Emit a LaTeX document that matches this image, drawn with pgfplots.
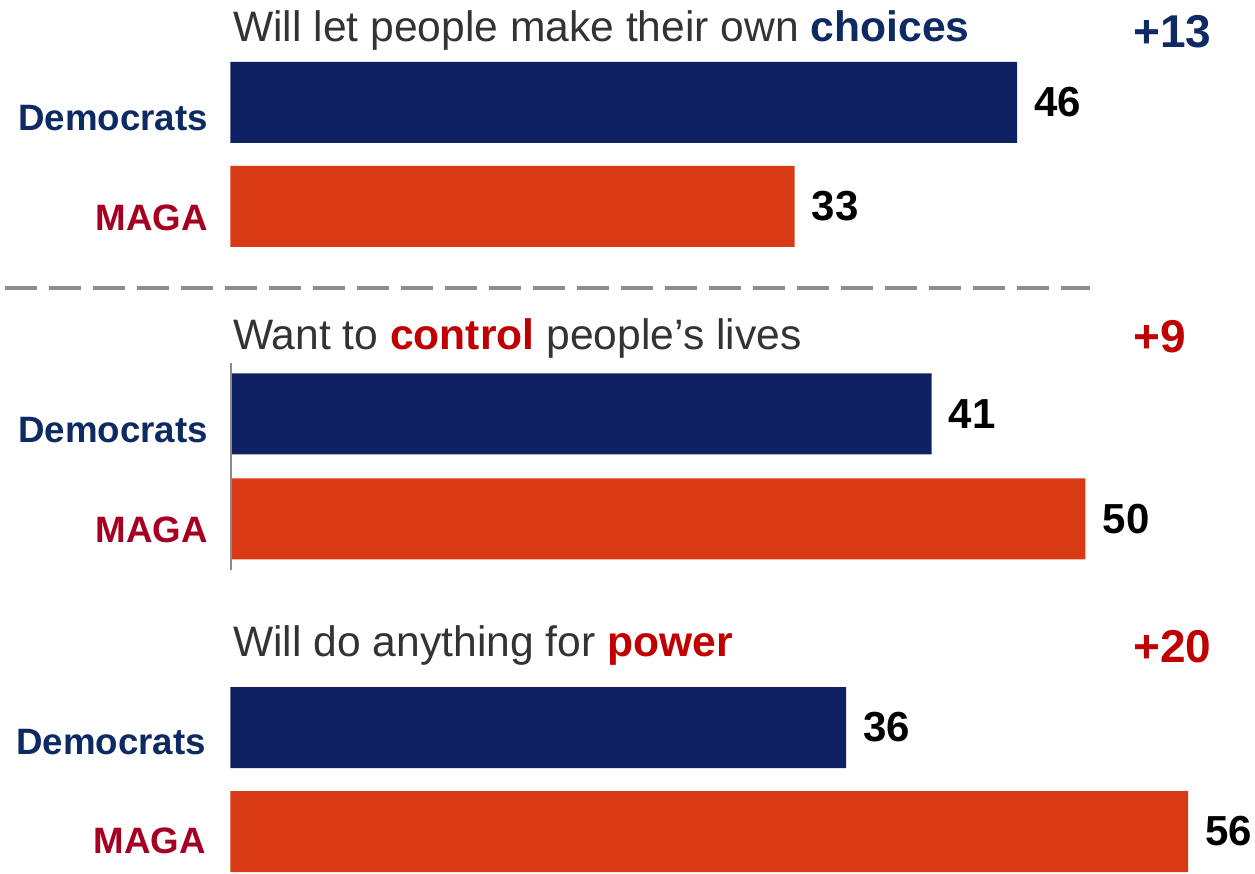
\documentclass[border=0pt]{standalone}
\usepackage{fontspec}
\setmainfont{Liberation Sans}
\usepackage{pgfplots}
\usepackage{pgfplotstable}
\pgfplotsset{compat=1.18}

\definecolor{dem}{HTML}{0F2163}
\definecolor{demtxt}{HTML}{0E2A62}
\definecolor{maga}{HTML}{D83A16}
\definecolor{magatxt}{HTML}{A50021}
\definecolor{hired}{HTML}{C00000}
\definecolor{titlegray}{HTML}{333333}
\definecolor{rulegray}{HTML}{8C8C8C}

% value, vertical position of the bar (pt from bottom)
\pgfplotstableread{
val pos
46 770.5
41 459
36 145.5
}\demdata
\pgfplotstableread{
val pos
33 666.5
50 354
56 41.5
}\magadata

\newcommand{\ttl}{\fontsize{42.6}{48}\selectfont}
\newcommand{\lbl}{\bfseries\fontsize{36.7}{40}\selectfont}
\newcommand{\dlt}{\bfseries\fontsize{46}{50}\selectfont}

\begin{document}
\begin{tikzpicture}
\path[use as bounding box] (0,0) rectangle (1255pt,873pt);
\begin{axis}[
    at={(0,0)}, anchor=south west,
    width=1255pt, height=873pt,
    scale only axis,
    hide axis,
    clip=false,
    xmin=-13.474, xmax=59.918,
    ymin=0, ymax=873,
    bar width=81,
    /pgf/number format/assume math mode=true,
    nodes near coords,
    point meta=explicit,
    every node near coord/.style={anchor=west, xshift=17pt, inner sep=0pt,
        text=black, font=\bfseries\fontsize{42}{46}\selectfont},
]
\addplot[xbar, bar shift=0pt, fill=dem, draw=none]
    table[x=val, y=pos, meta=val] {\demdata};
\addplot[xbar, bar shift=0pt, fill=maga, draw=none]
    table[x=val, y=pos, meta=val] {\magadata};
\end{axis}

% separator and axis stub
\draw[rulegray, line width=4pt, dash pattern=on 32pt off 12pt] (5pt,585pt) -- (1090pt,585pt);
\draw[rulegray, line width=2pt] (231pt,510pt) -- (231pt,303pt);

% titles
\node[anchor=base west, inner sep=0pt, text=titlegray] at (233pt,831pt)
    {\ttl Will let people make their own \textbf{\textcolor{demtxt}{choices}}};
\node[anchor=base west, inner sep=0pt, text=titlegray] at (233pt,523pt)
    {\ttl Want to \textbf{\textcolor{hired}{control}} people’s lives};
\node[anchor=base west, inner sep=0pt, text=titlegray] at (233pt,216pt)
    {\ttl Will do anything for \textbf{\textcolor{hired}{power}}};

% differences
\node[anchor=base west, inner sep=0pt, text=demtxt] at (1133pt,825pt) {\dlt +13};
\node[anchor=base west, inner sep=0pt, text=hired] at (1133pt,520pt) {\dlt +9};
\node[anchor=base west, inner sep=0pt, text=hired] at (1133pt,210pt) {\dlt +20};

% group labels
\node[anchor=east, inner sep=0pt, text=demtxt] at (208pt,755pt) {\lbl Democrats};
\node[anchor=east, inner sep=0pt, text=magatxt] at (208pt,655pt) {\lbl MAGA};
\node[anchor=east, inner sep=0pt, text=demtxt] at (208pt,443pt) {\lbl Democrats};
\node[anchor=east, inner sep=0pt, text=magatxt] at (208pt,343pt) {\lbl MAGA};
\node[anchor=east, inner sep=0pt, text=demtxt] at (206pt,131pt) {\lbl Democrats};
\node[anchor=east, inner sep=0pt, text=magatxt] at (206pt,32pt) {\lbl MAGA};
\end{tikzpicture}
\end{document}
